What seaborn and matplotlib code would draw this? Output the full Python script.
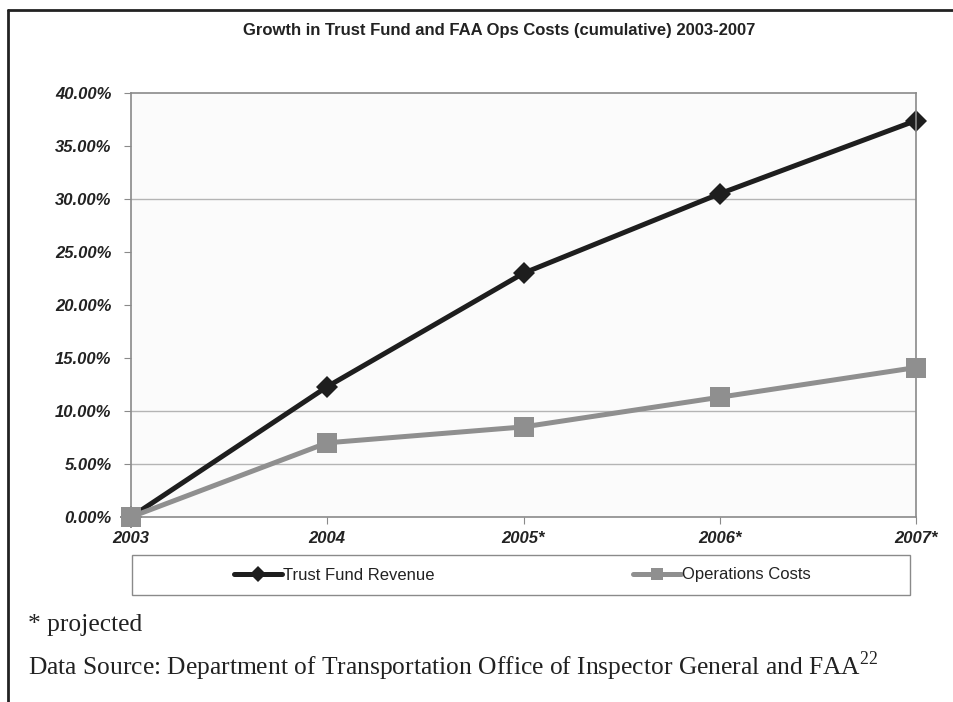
import matplotlib
matplotlib.use("Agg")
import matplotlib.pyplot as plt
import seaborn as sns
import pandas as pd
from matplotlib.lines import Line2D
from matplotlib.patches import Rectangle

years = ["2003", "2004", "2005*", "2006*", "2007*"]
trust_fund = [0.0, 12.3, 23.0, 30.5, 37.4]
ops_costs = [0.0, 7.0, 8.5, 11.3, 14.1]
series_names = ["Trust Fund Revenue", "Operations Costs"]
y_ticks = [0, 5, 10, 15, 20, 25, 30, 35, 40]
grid_values = [5, 10, 30]

sns.set_theme(style="white")
plt.rcParams["font.family"] = ["Liberation Sans", "DejaVu Sans"]
plt.rcParams["mathtext.fontset"] = "custom"
plt.rcParams["mathtext.rm"] = "Liberation Serif"

df = pd.DataFrame({
    "x": list(range(len(years))) * 2,
    "value": trust_fund + ops_costs,
    "series": [series_names[0]] * len(years) + [series_names[1]] * len(years),
})

fig = plt.figure(figsize=(9.54, 7.02), dpi=100)
ax = fig.add_axes([131 / 954, 1 - 517 / 702, (916 - 131) / 954, (517 - 93) / 702])
ax.set_facecolor("#fbfbfb")

colors = {series_names[0]: "#1e1e1e", series_names[1]: "#8f8f8f"}
markers = {series_names[0]: "D", series_names[1]: "s"}

for name in series_names:
    sub = df[df["series"] == name]
    sns.lineplot(data=sub, x="x", y="value", ax=ax, color=colors[name],
                 marker=markers[name], markersize=14 if name == series_names[1] else 11,
                 markeredgewidth=0, linewidth=3.6, legend=False, clip_on=False,
                 zorder=3 if name == series_names[1] else 2)

ax.set_xlim(0, len(years) - 1)
ax.set_ylim(0, 40)
ax.set_xticks(range(len(years)))
ax.set_xticklabels(years)
ax.set_yticks(y_ticks)
ax.set_yticklabels([f"{v:.2f}%" for v in y_ticks])
for v in grid_values:
    ax.axhline(v, color="#b4b4b4", linewidth=1.0, zorder=1)
ax.set_xlabel("")
ax.set_ylabel("")
for s in ax.spines.values():
    s.set_color("#8a8a8a")
    s.set_linewidth(1.2)
ax.tick_params(axis="both", which="major", length=5, width=0.8, color="#8a8a8a",
               bottom=True, left=True)
ax.tick_params(axis="y", pad=9)
ax.tick_params(axis="x", pad=5)
for lab in ax.get_xticklabels() + ax.get_yticklabels():
    lab.set_fontweight("bold")
    lab.set_fontstyle("italic")
    lab.set_fontsize(12)
    lab.set_color("#222222")

fig.text(499 / 954, 1 - 30 / 702, "Growth in Trust Fund and FAA Ops Costs (cumulative) 2003-2007",
         ha="center", va="center", fontsize=12, fontweight="bold", color="#222222")

# legend box
fig.patches.append(Rectangle((132 / 954, 1 - 595 / 702), (910 - 132) / 954, 40 / 702,
                             transform=fig.transFigure, facecolor="white",
                             edgecolor="#8a8a8a", linewidth=1.0))
handles = [Line2D([], [], color=colors[n], marker=markers[n], linewidth=3.6,
                  markersize=8 if n == series_names[0] else 9, markeredgewidth=0)
           for n in series_names]
fig.legend(handles, series_names, loc="center", bbox_to_anchor=(522 / 954, 1 - 575 / 702),
           ncol=2, frameon=False, fontsize=12, handlelength=2.9, handletextpad=0.05,
           columnspacing=11.9, labelcolor="#222222")

fig.text(28 / 954, 1 - 625 / 702, "* projected", ha="left", va="center",
         fontsize=18.4, family="Liberation Serif", color="#222222")
fig.text(28 / 954, 1 - 666 / 702,
         "Data Source: Department of Transportation Office of Inspector General and FAA$^{22}$",
         ha="left", va="center", fontsize=18.4, family="Liberation Serif", color="#222222")

# page border (top and left)
fig.add_artist(Line2D([8 / 954, 8 / 954], [0, 1 - 10 / 702], transform=fig.transFigure,
                      color="#222222", linewidth=2))
fig.add_artist(Line2D([8 / 954, 1], [1 - 10 / 702, 1 - 10 / 702], transform=fig.transFigure,
                      color="#222222", linewidth=2))

fig.savefig("out.png", dpi=100, facecolor="white")
